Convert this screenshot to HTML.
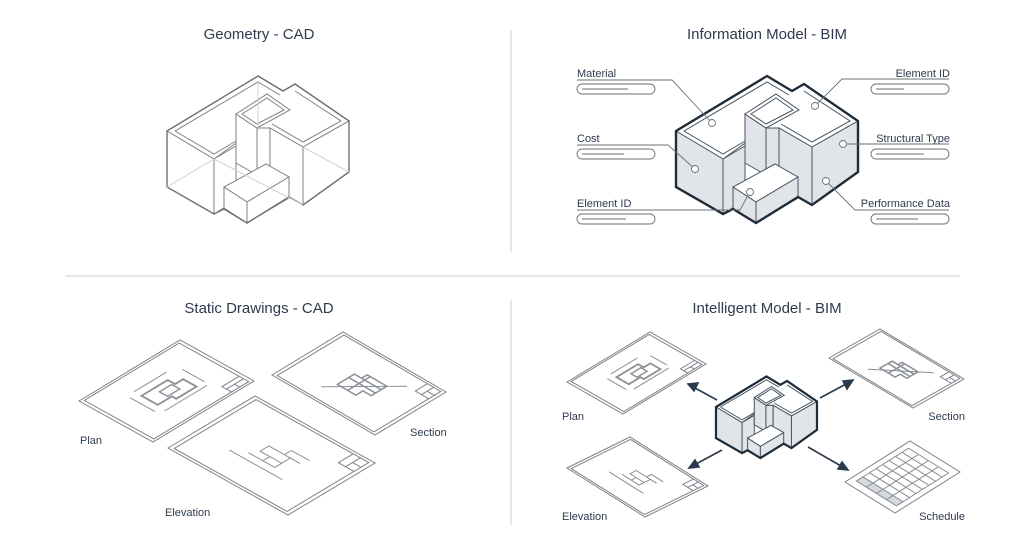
<!DOCTYPE html>
<html><head><meta charset="utf-8"><style>
html,body{margin:0;padding:0;background:#fff;}
svg{display:block;font-family:"Liberation Sans",sans-serif;}
.t{font-size:15px;fill:#2e3b4e;text-anchor:middle;}
.l{font-size:11px;fill:#2e3b4e;}
.ns{vector-effect:non-scaling-stroke;}
</style></head><body>
<svg width="1024" height="555" viewBox="0 0 1024 555" xmlns="http://www.w3.org/2000/svg">
<defs>
<g id="bld">
  <polygon points="167,131 258,76 283,91 295,84 349,121 303,147 270,128 257,128 214,159" style="fill:#fff"/>
  <polygon points="167,131 214,159 214,214 167,187" style="fill:var(--f)"/>
  <polygon points="214,159 236,146 236,200 214,214" style="fill:var(--f)"/>
  <polygon points="236,114 257,128 257,175 236,163" style="fill:var(--f)"/>
  <polygon points="257,128 270,128 270,186 257,175" style="fill:var(--f)"/>
  <polygon points="270,128 303,147 303,205 270,186" style="fill:var(--f)"/>
  <polygon points="303,147 349,121 349,172 303,205" style="fill:var(--f)"/>
  <polygon points="224,187 247,202 289,177 266,164" style="fill:#fff"/>
  <polygon points="224,187 247,202 247,223 224,208" style="fill:var(--f)"/>
  <polygon points="247,202 289,177 289,198 247,223" style="fill:var(--f)"/>
  <polygon points="236,114 267,94 290,110 257,128" style="fill:#fff"/>
  <polygon points="242,114 267,98 284,110 257,124" style="fill:none"/>
  <polyline points="175,131 258,82 280,95" style="fill:none"/>
  <polyline points="175,131 214,154 236,141" style="fill:none"/>
  <polyline points="295,91 341,121 303,142 272,124" style="fill:none"/>
  <polygon points="167,131 258,76 283,91 295,84 349,121 349,172 303,205 289,197 247,223 224,209 214,214 167,187" style="fill:none;stroke:var(--o);stroke-width:var(--ow)"/>
</g>
</defs>

<line x1="511" y1="30" x2="511" y2="252" stroke="#c9ccd0"/>
<line x1="511" y1="300" x2="511" y2="525" stroke="#c9ccd0"/>
<line x1="65" y1="276" x2="960" y2="276" stroke="#c9ccd0"/>

<text class="t" x="259" y="39">Geometry - CAD</text>
<text class="t" x="767" y="39">Information Model - BIM</text>
<text class="t" x="259" y="313">Static Drawings - CAD</text>
<text class="t" x="767" y="313">Intelligent Model - BIM</text>

<!-- CAD geometry -->
<g stroke="#7d8389" stroke-width="1" style="--f:#fff;--o:#6b7177;--ow:1.4px">
  <use href="#bld"/>
  <g stroke="#cfd2d6" fill="none"><polyline points="167,187 214,159 303,205"/><polyline points="258,82 258,130"/><polyline points="303,147 349,172"/></g>
</g>

<!-- BIM -->
<g stroke="#4a5560" stroke-width="1" transform="translate(509,0)" style="--f:#e1e4e8;--o:#1f2d3a;--ow:2.4px"><use href="#bld"/></g>
<g fill="none" stroke="#6b7177" stroke-width="0.9">
  <polyline points="577,80 672,80 712,123"/>
  <polyline points="577,145 668,145 695,169"/>
  <polyline points="577,210 740,210 750,192"/>
  <polyline points="949,79 842,79 815,106"/>
  <polyline points="949,144 843,144"/>
  <polyline points="949,210 855,210 826,181"/>
  <g fill="#fff"><circle cx="712" cy="123" r="3.5"/><circle cx="815" cy="106" r="3.5"/><circle cx="695" cy="169" r="3.5"/><circle cx="843" cy="144" r="3.5"/><circle cx="750" cy="192" r="3.5"/><circle cx="826" cy="181" r="3.5"/></g>
  <g fill="#fff" stroke="#6b7177">
    <rect x="577" y="84" width="78" height="10" rx="5"/><rect x="577" y="149" width="78" height="10" rx="5"/><rect x="577" y="214" width="78" height="10" rx="5"/>
    <rect x="871" y="84" width="78" height="10" rx="5"/><rect x="871" y="149" width="78" height="10" rx="5"/><rect x="871" y="214" width="78" height="10" rx="5"/>
  </g>
  <line x1="582" y1="89" x2="628" y2="89"/><line x1="582" y1="154" x2="624" y2="154"/><line x1="582" y1="219" x2="626" y2="219"/>
  <line x1="876" y1="89" x2="904" y2="89"/><line x1="876" y1="154" x2="924" y2="154"/><line x1="876" y1="219" x2="918" y2="219"/>
</g>
<text class="l" x="577" y="77">Material</text>
<text class="l" x="577" y="142">Cost</text>
<text class="l" x="577" y="207">Element ID</text>
<text class="l" x="950" y="77" text-anchor="end">Element ID</text>
<text class="l" x="950" y="142" text-anchor="end">Structural Type</text>
<text class="l" x="950" y="207" text-anchor="end">Performance Data</text>

<defs>
<g id="sheet" fill="none" stroke="#7d8389">
  <polygon class="ns" points="0,0 100,0 100,100 0,100" fill="#fff"/>
  <polygon class="ns" points="3,3 97,3 97,97 3,97"/>
  <polyline class="ns" points="80,97 80,84 97,84"/>
  <line class="ns" x1="80" y1="90" x2="97" y2="90"/>
  <line class="ns" x1="88" y1="90" x2="88" y2="97"/>
</g>
<g id="plan" fill="none" stroke="#8a9096" stroke-width="1.8">
  <polygon class="ns" points="34,38 60,38 60,48 68,48 68,66 48,66 48,60 34,60"/>
  <polygon class="ns" points="46,46 58,46 58,57 46,57" stroke-width="1.4"/>
  <g stroke-width="1"><line class="ns" x1="27" y1="32" x2="27" y2="66"/><line class="ns" x1="32" y1="72" x2="74" y2="72"/><line class="ns" x1="34" y1="28" x2="66" y2="28"/><line class="ns" x1="76" y1="36" x2="76" y2="66"/></g>
</g>
<g id="sect" fill="none" stroke="#8a9096" stroke-width="1.5">
  <polygon class="ns" points="34,40 58,40 58,47 66,47 66,66 44,66 44,58 34,58"/>
  <line class="ns" x1="34" y1="50" x2="66" y2="50"/><line class="ns" x1="50" y1="40" x2="50" y2="66"/><line class="ns" x1="58" y1="47" x2="58" y2="66"/>
  <line class="ns" x1="20" y1="34" x2="80" y2="76" stroke-width="1"/>
</g>
<g id="elev" fill="none" stroke="#8a9096" stroke-width="1">
  <polyline class="ns" points="32,28 32,72"/>
  <polyline class="ns" points="40,38 40,50 48,50 48,42 58,42 58,55 66,55 66,70"/>
  <polyline class="ns" points="40,50 40,60 48,60 48,50"/><line class="ns" x1="48" y1="60" x2="58" y2="60"/><line class="ns" x1="58" y1="55" x2="58" y2="68"/>
</g>
<g id="sched" fill="none" stroke="#8a9096" stroke-width="1">
  <rect class="ns" x="10" y="10" width="80" height="80" fill="#fff"/>
  <rect class="ns" x="10" y="10" width="10" height="80" fill="#d6d9dd"/>
  <line class="ns" x1="30" y1="10" x2="30" y2="90"/><line class="ns" x1="40" y1="10" x2="40" y2="90"/><line class="ns" x1="50" y1="10" x2="50" y2="90"/><line class="ns" x1="60" y1="10" x2="60" y2="90"/><line class="ns" x1="70" y1="10" x2="70" y2="90"/><line class="ns" x1="80" y1="10" x2="80" y2="90"/>
  <line class="ns" x1="10" y1="30" x2="90" y2="30"/><line class="ns" x1="10" y1="50" x2="90" y2="50"/><line class="ns" x1="10" y1="70" x2="90" y2="70"/>
</g>
</defs>

<g transform="matrix(1.01,-0.61,0.74,0.41,79,401)"><use href="#sheet"/><use href="#plan"/></g>
<g transform="matrix(0.71,-0.43,1.03,0.60,272,375)"><use href="#sheet"/><use href="#sect"/></g>
<g transform="matrix(0.87,-0.52,1.20,0.67,168,448)"><use href="#sheet"/><use href="#elev"/></g>
<text class="l" x="80" y="444">Plan</text>
<text class="l" x="410" y="436">Section</text>
<text class="l" x="165" y="516">Elevation</text>

<g transform="matrix(0.83,-0.50,0.56,0.32,567,382)"><use href="#sheet"/><use href="#plan"/></g>
<g transform="matrix(0.51,-0.29,0.84,0.50,829,358)"><use href="#sheet"/><use href="#sect"/></g>
<g transform="matrix(0.63,-0.31,0.78,0.49,567,468)"><use href="#sheet"/><use href="#elev"/></g>
<g transform="matrix(0.65,-0.41,0.50,0.31,845,482)"><polygon class="ns" points="0,0 100,0 100,100 0,100" fill="#fff" stroke="#7d8389"/><use href="#sched"/></g>
<g stroke="#4a5560" stroke-width="1.8" transform="matrix(0.555,0,0,0.555,623.3,334.3)" style="--f:#e1e4e8;--o:#1f2d3a;--ow:4px"><use href="#bld"/></g>

<g stroke="#2a3a4c" stroke-width="1.6" fill="#2a3a4c">
  <line x1="717" y1="400" x2="695" y2="388"/><polygon points="688,384 698,383 694,391"/>
  <line x1="820" y1="398" x2="846" y2="384"/><polygon points="853,380 843,381 847,389"/>
  <line x1="722" y1="450" x2="696" y2="464"/><polygon points="689,468 695,460 699,467"/>
  <line x1="808" y1="447" x2="841" y2="466"/><polygon points="848,470 838,469 842,462"/>
</g>
<text class="l" x="562" y="420">Plan</text>
<text class="l" x="965" y="420" text-anchor="end">Section</text>
<text class="l" x="562" y="520">Elevation</text>
<text class="l" x="965" y="520" text-anchor="end">Schedule</text>
</svg>
</body></html>
